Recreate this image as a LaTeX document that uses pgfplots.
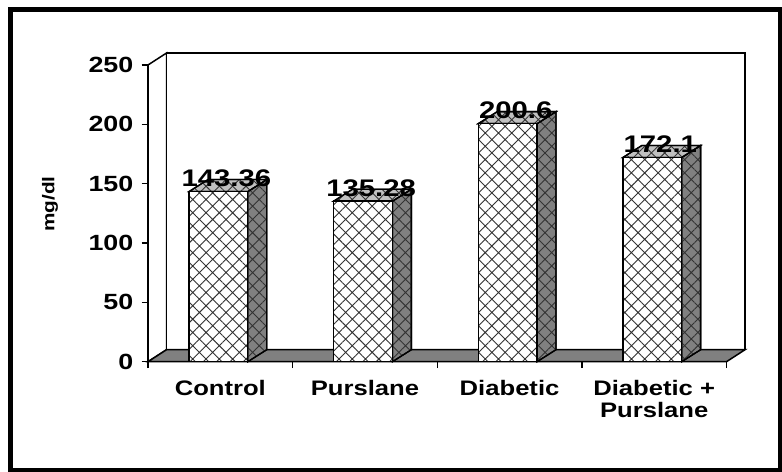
\documentclass[border=0pt]{standalone}
\usepackage{fontspec}
\setmainfont{Liberation Sans}[FakeStretch=1.22]
\usepackage{pgfplots}
\pgfplotsset{compat=1.18}
\usetikzlibrary{patterns.meta}
\definecolor{floorgray}{HTML}{808080}
\definecolor{sidegray}{HTML}{808080}
\definecolor{topgray}{HTML}{C0C0C0}
\tikzset{
  hatchy/.style={postaction={pattern={Hatch[angle=45,distance=9.4bp,line width=0.9bp]}, pattern color=black!80}},
  frontface/.style={fill=white, draw=black, line width=1.3bp, hatchy},
  sideface/.style={fill=sidegray, draw=black, line width=1.3bp, hatchy},
  topface/.style={fill=topgray, draw=black, line width=1.3bp, hatchy},
}
\begin{document}
\begin{tikzpicture}
\useasboundingbox (0bp,0bp) rectangle (782bp,472bp);
\draw[line width=4.5bp] (10.5bp,1.5bp) rectangle (780.5bp,462.5bp);
\begin{axis}[
  at={(148bp,110.3bp)}, anchor=south west,
  scale only axis, width=578.5bp, height=296.7bp,
  xmin=0, xmax=4, ymin=0, ymax=250,
  clip=false, axis on top,
  axis lines*=left,
  axis line style={line width=1.5bp, black},
  tick align=outside, major tick length=6.5bp,
  every tick/.style={black, line width=1.5bp},
  /pgf/number format/assume math mode=true,
  xtick={0,1,2,3,4}, xticklabels={},
  ytick={0,50,100,150,200,250},
  yticklabel style={font=\fontsize{22bp}{26bp}\selectfont\bfseries, inner sep=0pt, xshift=-8bp},
  extra x ticks={0.5,1.5,2.5,3.5},
  extra x tick labels={Control,Purslane,Diabetic,{Diabetic +\\Purslane}},
  extra x tick style={major tick length=0pt, xticklabel style={anchor=north, inner sep=0pt, yshift=-18.3bp, align=center, font=\fontsize{21bp}{21.7bp}\selectfont\bfseries}},
  ylabel={mg/dl},
  every axis y label/.style={at={(axis description cs:-0.1694,0.5315)}, rotate=90, anchor=center, font=\fontsize{17bp}{19bp}\selectfont\bfseries},
]
% walls and floor
\addplot[fill=white, draw=black, line width=1.5bp] coordinates {(0,0) (0.128,10.1) (0.128,260.1) (0,250)} -- cycle;
\addplot[fill=white, draw=black, line width=1.5bp] coordinates {(0.128,10.1) (4.128,10.1) (4.128,260.1) (0.128,260.1)} -- cycle;
\addplot[fill=floorgray, draw=black, line width=1.5bp] coordinates {(0,0) (0.128,10.1) (4.128,10.1) (4,0)} -- cycle;
% bar sides
\addplot[sideface] coordinates {(0.690,0) (0.821,10.1) (0.821,153.46) (0.690,143.36)} -- cycle;
\addplot[sideface] coordinates {(1.690,0) (1.821,10.1) (1.821,145.38) (1.690,135.28)} -- cycle;
\addplot[sideface] coordinates {(2.690,0) (2.821,10.1) (2.821,210.7) (2.690,200.6)} -- cycle;
\addplot[sideface] coordinates {(3.690,0) (3.821,10.1) (3.821,182.2) (3.690,172.1)} -- cycle;
% bar tops
\addplot[topface] coordinates {(0.284,143.36) (0.415,153.46) (0.821,153.46) (0.690,143.36)} -- cycle;
\addplot[topface] coordinates {(1.284,135.28) (1.415,145.38) (1.821,145.38) (1.690,135.28)} -- cycle;
\addplot[topface] coordinates {(2.284,200.6) (2.415,210.7) (2.821,210.7) (2.690,200.6)} -- cycle;
\addplot[topface] coordinates {(3.284,172.1) (3.415,182.2) (3.821,182.2) (3.690,172.1)} -- cycle;
% bar fronts with value labels
\addplot[ybar, bar width=58.8bp, bar shift=0pt, frontface,
  nodes near coords,
  every node near coord/.append style={inner sep=0pt, xshift=8bp, yshift=4bp, black, font=\fontsize{24bp}{26bp}\selectfont\bfseries}]
  coordinates {(0.487,143.36) (1.487,135.28) (2.487,200.6) (3.487,172.1)};
\end{axis}
\end{tikzpicture}
\end{document}
